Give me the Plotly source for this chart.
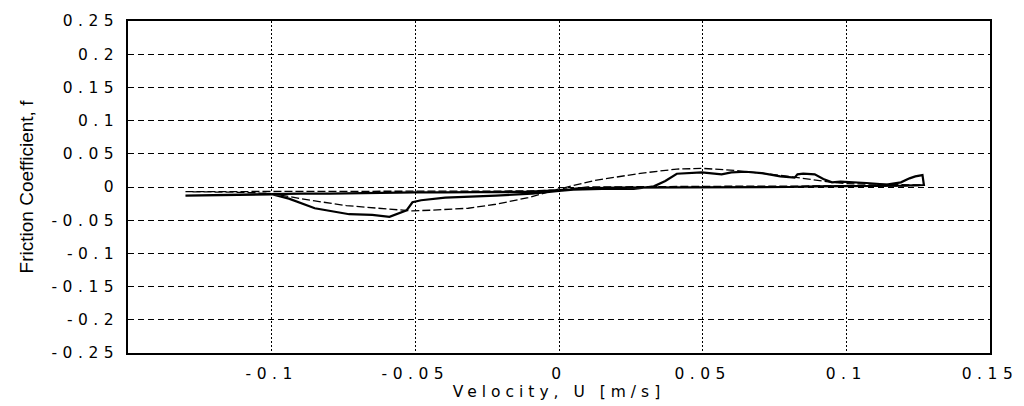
import plotly.graph_objects as go

# ---- data ----
# measured friction coefficient (solid): outward branch along the baseline
meas_fwd_x = [-0.13, -0.12, -0.11, -0.10, -0.09, -0.08, -0.07, -0.06, -0.05, -0.04, -0.03,
              -0.02, -0.01, 0.0, 0.01, 0.02, 0.03, 0.04, 0.05, 0.06, 0.07, 0.08, 0.09,
              0.10, 0.11, 0.12, 0.127]
meas_fwd_y = [-0.013, -0.012, -0.012, -0.011, -0.010, -0.010, -0.009, -0.009, -0.008, -0.008,
              -0.008, -0.007, -0.007, -0.005, -0.002, -0.001, -0.001, -0.001, -0.001, 0.0,
              0.0, 0.0, 0.001, 0.001, 0.001, 0.002, 0.003]
# measured friction coefficient (solid): return branch with hump and dip
meas_ret_x = [0.127, 0.1265, 0.124, 0.122, 0.119, 0.114, 0.107, 0.098, 0.095, 0.092, 0.089,
              0.085, 0.083, 0.082, 0.077, 0.0705, 0.065, 0.060, 0.0566, 0.0497, 0.041,
              0.037, 0.033, 0.026, 0.015, 0.005, 0.0, -0.005, -0.0094, -0.022, -0.0396,
              -0.048, -0.051, -0.053, -0.059, -0.065, -0.073, -0.085, -0.094, -0.10,
              -0.11, -0.13]
meas_ret_y = [0.003, 0.018, 0.016, 0.013, 0.007, 0.0035, 0.006, 0.008, 0.007, 0.012, 0.019,
              0.020, 0.019, 0.014, 0.016, 0.021, 0.023, 0.022, 0.019, 0.022, 0.020,
              0.009, 0.001, -0.003, -0.003, -0.004, -0.006, -0.008, -0.010, -0.013, -0.016,
              -0.020, -0.023, -0.035, -0.045, -0.042, -0.041, -0.032, -0.0175, -0.011,
              -0.012, -0.013]
# model prediction (dashed): flat branch
model_fwd_x = [-0.13, -0.10, -0.05, -0.01, 0.0, 0.01, 0.05, 0.10, 0.126]
model_fwd_y = [-0.007, -0.007, -0.007, -0.006, -0.004, 0.0, 0.001, 0.001, 0.002]
# model prediction (dashed): hysteresis branch
model_ret_x = [0.126, 0.11, 0.10, 0.095, 0.087, 0.08, 0.07, 0.061, 0.05, 0.041, 0.029,
               0.0125, 0.0, -0.0107, -0.022, -0.0316, -0.045, -0.051, -0.06, -0.074,
               -0.085, -0.094, -0.10, -0.11, -0.13]
model_ret_y = [0.003, 0.004, 0.005, 0.007, 0.012, 0.016, 0.021, 0.025, 0.028, 0.027, 0.021,
               0.010, -0.003, -0.016, -0.026, -0.032, -0.035, -0.036, -0.033, -0.028,
               -0.021, -0.014, -0.010, -0.008, -0.007]

x_ticks = [-0.1, -0.05, 0.0, 0.05, 0.1, 0.15]
x_ticktext = ["-0.1", "-0.05", "0", "0.05", "0.1", "0.15"]
y_ticks = [-0.25, -0.2, -0.15, -0.1, -0.05, 0.0, 0.05, 0.1, 0.15, 0.2, 0.25]
y_ticktext = ["-0.25", "-0.2", "-0.15", "-0.1", "-0.05", "0", "0.05", "0.1", "0.15", "0.2", "0.25"]

fig = go.Figure()
fig.add_trace(go.Scatter(x=model_fwd_x + model_ret_x, y=model_fwd_y + model_ret_y,
                         mode="lines", line=dict(color="black", width=1.3, dash="8px,3px"),
                         showlegend=False, hoverinfo="skip"))
fig.add_trace(go.Scatter(x=meas_fwd_x + meas_ret_x, y=meas_fwd_y + meas_ret_y,
                         mode="lines", line=dict(color="black", width=2.2),
                         showlegend=False, hoverinfo="skip"))

tick_font = dict(family="DejaVu Sans, Verdana, sans-serif", size=15.5, color="black")
title_font = dict(family="DejaVu Sans, Verdana, sans-serif", size=15.5, color="black")
fig.update_layout(
    width=1024, height=406,
    margin=dict(l=128, r=34, t=16, b=47),
    paper_bgcolor="white", plot_bgcolor="white",
    xaxis=dict(range=[-0.15, 0.15], tickvals=x_ticks, ticktext=x_ticktext,
               showgrid=True, gridcolor="black", gridwidth=1, griddash="2px,2px",
               zeroline=False, showline=True, linecolor="black", linewidth=1.5, mirror=True,
               ticks="", tickfont=tick_font, ticklabelstandoff=6,
               title=dict(text="Velocity, U [m/s]", font=title_font, standoff=0)),
    yaxis=dict(range=[-0.25, 0.25], tickvals=y_ticks, ticktext=y_ticktext,
               showgrid=True, gridcolor="black", gridwidth=1, griddash="6px,4px",
               zeroline=False, showline=True, linecolor="black", linewidth=1.5, mirror=True,
               ticks="", tickfont=tick_font, ticklabelstandoff=4,
               title=dict(text="Friction Coefficient, f",
                          font=dict(family="Liberation Sans Narrow, Arial Narrow, sans-serif",
                                    size=19, color="black"), standoff=40)),
)

post = """
document.querySelectorAll('.xtick text, .ytick text').forEach(function(t){t.style.letterSpacing='5.5px';});
document.querySelectorAll('.xtitle').forEach(function(t){t.style.letterSpacing='5px';});
"""
fig.write_html("out.html", post_script=post)
